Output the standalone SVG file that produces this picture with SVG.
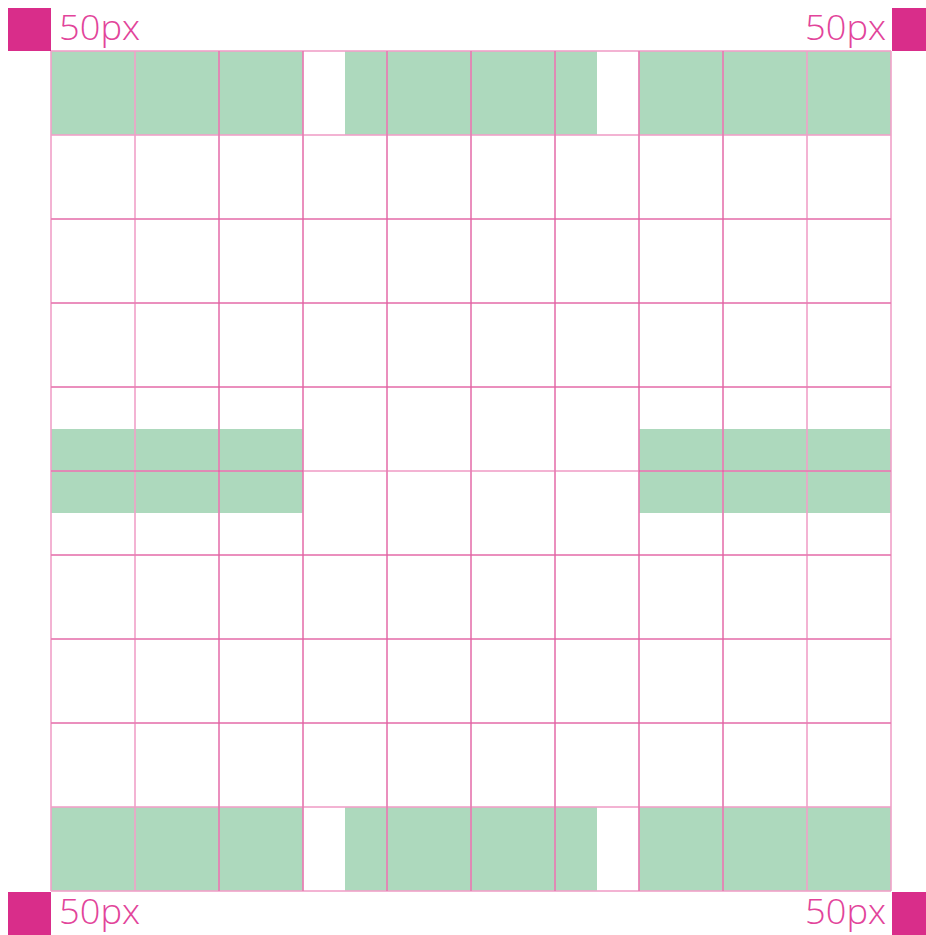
<svg xmlns="http://www.w3.org/2000/svg" width="926" height="935" viewBox="0 0 926 935">
<style>
.bg{fill:#ffffff}
.green{fill:#add9bd}
.sq{fill:#d92d8a}
.lbl{font-family:"Open Sans","Liberation Sans",sans-serif;font-size:34px;fill:#e2449a;font-weight:300}
.halo{stroke:#f0a0c8;stroke-width:2;stroke-opacity:0.8;fill:none}
.core{stroke:#d83c8c;stroke-width:1;stroke-opacity:0.6;fill:none}
</style>
<rect class="bg" x="0" y="0" width="926" height="935"/>
<g id="green-areas">
<rect class="green" x="51" y="51" width="252" height="84"/>
<rect class="green" x="345" y="51" width="252" height="84"/>
<rect class="green" x="639" y="51" width="252" height="84"/>
<rect class="green" x="51" y="429" width="252" height="84"/>
<rect class="green" x="639" y="429" width="252" height="84"/>
<rect class="green" x="51" y="807" width="252" height="84"/>
<rect class="green" x="345" y="807" width="252" height="84"/>
<rect class="green" x="639" y="807" width="252" height="84"/>
</g>
<g id="grid">
<path class="halo" d="M51 51V891M135 51V891M219 51V891M303 51V891M387 51V891M471 51V891M555 51V891M639 51V891M723 51V891M807 51V891M891 51V891"/>
<path class="halo" d="M51 51H891M51 135H891M51 219H891M51 303H891M51 387H891M51 471H891M51 555H891M51 639H891M51 723H891M51 807H891M51 891H891"/>
<path class="core" d="M219 51V891M303 51V891M387 51V891M471 51V891M555 51V891M639 51V891M723 51V891"/>
<path class="core" d="M51 219H891M51 303H891M51 387H891M51 471H303M639 471H891M51 555H891M51 639H891M51 723H891"/>
</g>
<g id="corner-tl"><rect class="sq" x="8" y="8" width="43" height="43"/><text class="lbl" x="59" y="40" textLength="81" lengthAdjust="spacingAndGlyphs">50px</text></g>
<g id="corner-tr"><rect class="sq" x="892" y="8" width="34" height="43"/><text class="lbl" x="805" y="40" textLength="81" lengthAdjust="spacingAndGlyphs">50px</text></g>
<g id="corner-bl"><rect class="sq" x="8" y="892" width="43" height="43"/><text class="lbl" x="59" y="924" textLength="81" lengthAdjust="spacingAndGlyphs">50px</text></g>
<g id="corner-br"><rect class="sq" x="892" y="892" width="34" height="43"/><text class="lbl" x="805" y="924" textLength="81" lengthAdjust="spacingAndGlyphs">50px</text></g>
</svg>
